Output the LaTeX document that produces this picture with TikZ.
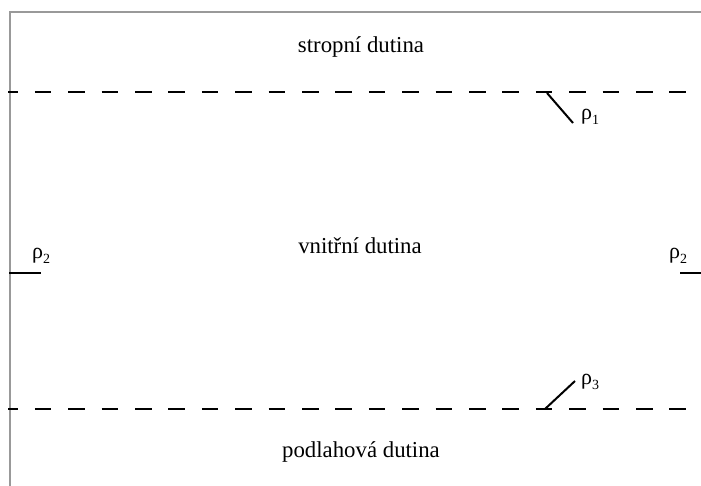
\documentclass[tikz,border=0pt]{standalone}
\usepackage{fontspec}
\setmainfont{Liberation Serif}
\newcommand{\rsub}[1]{\raisebox{-0.45ex}{\fontsize{14}{16}\selectfont #1}}
\begin{document}
\begin{tikzpicture}[x=1pt,y=-1pt,
  lbl/.style={inner sep=0pt,font=\fontsize{22.8}{26}\selectfont},
  rho/.style={inner sep=0pt,font=\fontsize{22}{26}\selectfont},
  dashline/.style={line width=1.8pt,dash pattern=on 16.6pt off 16.8pt,dash phase=6.6pt},
  frame/.style={line width=2.5pt,draw=black!40},
  lead/.style={line width=2pt}]
\useasboundingbox (0,0) rectangle (701,486);
% frame
\coordinate (tl) at (10,12);
\coordinate (tr) at (701,12);
\coordinate (bl) at (10,486);
\draw[frame] (tr) -- (tl) -- (bl);
% dashed boundaries
\coordinate (d1a) at (8,92);
\coordinate (d1b) at (688,92);
\coordinate (d2a) at (8,409);
\coordinate (d2b) at (688,409);
\draw[dashline] (d1a) -- (d1b);
\draw[dashline] (d2a) -- (d2b);
% texts
\node[lbl] (top) at (361,47) {stropní dutina};
\node[lbl] (mid) at (360,246) {vnitřní dutina};
\node[lbl] (bot) at (361,452) {podlahová dutina};
% rho1
\coordinate (r1a) at (547,93);
\coordinate (r1b) at (573,123);
\draw[lead] (r1a) -- (r1b);
\node[rho,anchor=west] (p1) at (581,117) {ρ\rsub{1}};
% rho3
\coordinate (r3a) at (545,409);
\coordinate (r3b) at (575,381);
\draw[lead] (r3a) -- (r3b);
\node[rho,anchor=west] (p3) at (581,382) {ρ\rsub{3}};
% rho2 left
\coordinate (r2la) at (9,273);
\coordinate (r2lb) at (41,273);
\draw[lead] (r2la) -- (r2lb);
\node[rho,anchor=west] (p2l) at (32,256) {ρ\rsub{2}};
% rho2 right
\coordinate (r2ra) at (680,273);
\coordinate (r2rb) at (701,273);
\draw[lead] (r2ra) -- (r2rb);
\node[rho,anchor=west] (p2r) at (669,256) {ρ\rsub{2}};
\end{tikzpicture}
\end{document}
